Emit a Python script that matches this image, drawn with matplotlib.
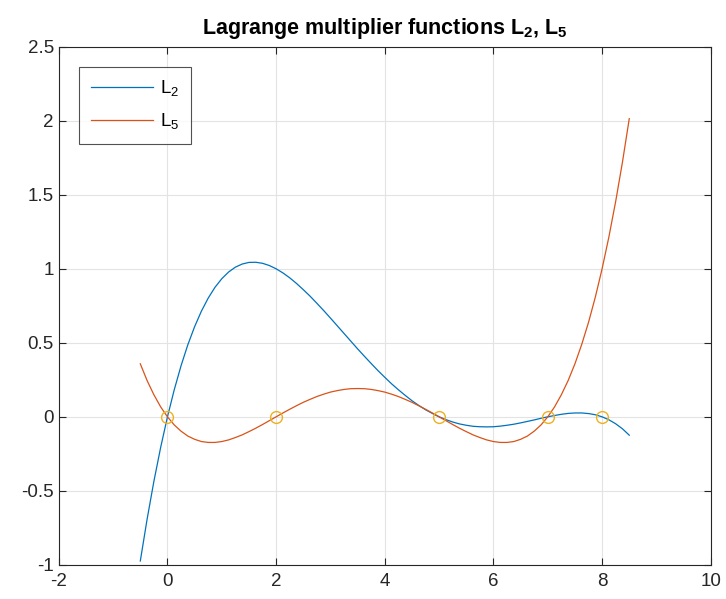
import matplotlib
matplotlib.use("Agg")
import matplotlib.pyplot as plt

# sample points
x_vals = [-0.5, -0.375, -0.25, -0.125, 0.0, 0.125, 0.25, 0.375, 0.5, 0.625, 0.75, 0.875,
          1.0, 1.125, 1.25, 1.375, 1.5, 1.625, 1.75, 1.875, 2.0, 2.125, 2.25, 2.375,
          2.5, 2.625, 2.75, 2.875, 3.0, 3.125, 3.25, 3.375, 3.5, 3.625, 3.75, 3.875,
          4.0, 4.125, 4.25, 4.375, 4.5, 4.625, 4.75, 4.875, 5.0, 5.125, 5.25, 5.375,
          5.5, 5.625, 5.75, 5.875, 6.0, 6.125, 6.25, 6.375, 6.5, 6.625, 6.75, 6.875,
          7.0, 7.125, 7.25, 7.375, 7.5, 7.625, 7.75, 7.875, 8.0, 8.125, 8.25, 8.375, 8.5]
l2_vals = [-0.974, -0.692, -0.436, -0.206, 0.0, 0.183, 0.345, 0.487, 0.609, 0.714, 0.802, 0.875,
           0.933, 0.978, 1.011, 1.032, 1.043, 1.044, 1.037, 1.022, 1.0, 0.972, 0.939, 0.901,
           0.859, 0.815, 0.767, 0.718, 0.667, 0.615, 0.563, 0.511, 0.459, 0.409, 0.360, 0.312,
           0.267, 0.223, 0.183, 0.145, 0.109, 0.077, 0.048, 0.023, 0.0, -0.019, -0.035, -0.048,
           -0.057, -0.064, -0.067, -0.068, -0.067, -0.063, -0.057, -0.050, -0.041, -0.031, -0.021, -0.010,
           0.0, 0.009, 0.017, 0.023, 0.026, 0.026, 0.022, 0.014, 0.0, -0.020, -0.047, -0.081, -0.124]
l5_vals = [0.358, 0.245, 0.149, 0.067, 0.0, -0.055, -0.097, -0.130, -0.152, -0.167, -0.173, -0.173,
           -0.167, -0.156, -0.140, -0.122, -0.100, -0.077, -0.052, -0.026, 0.0, 0.026, 0.051, 0.075,
           0.098, 0.118, 0.137, 0.153, 0.167, 0.177, 0.185, 0.190, 0.191, 0.190, 0.185, 0.177,
           0.167, 0.153, 0.137, 0.118, 0.098, 0.075, 0.051, 0.026, 0.0, -0.026, -0.052, -0.077,
           -0.100, -0.122, -0.140, -0.156, -0.167, -0.173, -0.173, -0.167, -0.152, -0.130, -0.097, -0.055,
           0.0, 0.067, 0.149, 0.245, 0.358, 0.489, 0.638, 0.808, 1.0, 1.215, 1.455, 1.721, 2.014]
nodes_x = [0, 2, 5, 7, 8]
nodes_y = [0, 0, 0, 0, 0]

plt.rcParams['font.family'] = ['Liberation Sans', 'DejaVu Sans']
plt.rcParams['mathtext.fontset'] = 'custom'
plt.rcParams['mathtext.rm'] = 'Liberation Sans'
plt.rcParams['mathtext.bf'] = 'Liberation Sans:bold'
plt.rcParams['axes.unicode_minus'] = False

fig = plt.figure(figsize=(7.26, 5.99), dpi=100)
ax = fig.add_axes([0.081, 0.057, 0.898, 0.865])

ax.plot(x_vals, l2_vals, color='#0072BD', lw=0.9, label=r'L$_2$')
ax.plot(x_vals, l5_vals, color='#D95319', lw=0.9, label=r'L$_5$')
ax.plot(nodes_x, nodes_y, 'o', mfc='none', mec='#EDB120', ms=8.5, mew=1.0)

ax.set_xlim(-2, 10)
ax.set_ylim(-1, 2.5)
ax.set_xticks(range(-2, 11, 2))
ax.set_yticks([-1, -0.5, 0, 0.5, 1, 1.5, 2, 2.5])
ax.set_yticklabels(['-1', '-0.5', '0', '0.5', '1', '1.5', '2', '2.5'])
ax.grid(True, color='#e3e3e3', lw=0.8)
ax.set_axisbelow(True)
ax.tick_params(direction='in', top=True, right=True, labelsize=13.5,
               colors='#262626', length=5)
ax.tick_params(axis='x', pad=6)
for s in ax.spines.values():
    s.set_color('#262626')
    s.set_linewidth(0.8)

ax.set_title(r'Lagrange multiplier functions L$_\mathbf{2}$, L$_\mathbf{5}$',
             fontsize=15.5, fontweight='bold', pad=9)

leg = ax.legend(loc='upper left', fontsize=13.5, fancybox=False, edgecolor='#262626',
                handlelength=3.3, handletextpad=0.4, borderaxespad=1.1,
                labelspacing=0.7, borderpad=0.6)
leg.get_frame().set_linewidth(0.8)

fig.savefig('out.png', dpi=100)
